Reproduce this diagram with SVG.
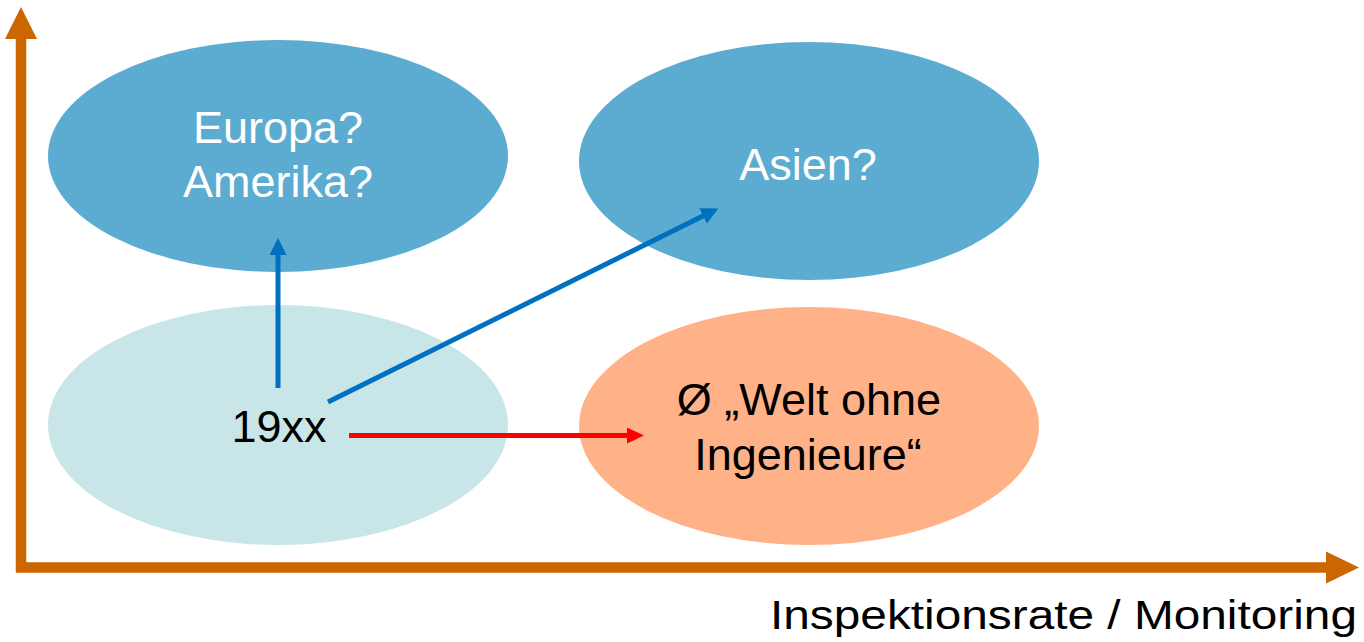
<svg xmlns="http://www.w3.org/2000/svg" width="1364" height="642" viewBox="0 0 1364 642">
<defs>
<style>
.lbl{font-family:"Liberation Sans",Arial,sans-serif;font-size:45px;text-anchor:middle}
.w{fill:#ffffff}
.k{fill:#000000}
.conn{fill:none;stroke-width:5}
</style>
<marker id="hb" viewBox="0 0 17 17" refX="1" refY="8.5" markerWidth="17" markerHeight="17" markerUnits="userSpaceOnUse" orient="auto">
<path d="M0,0 L17,8.5 L0,17 Z" fill="#0070C0"/>
</marker>
<marker id="hr" viewBox="0 0 17 16" refX="1" refY="8" markerWidth="17" markerHeight="16" markerUnits="userSpaceOnUse" orient="auto">
<path d="M0,0 L17,8 L0,16 Z" fill="#FF0000"/>
</marker>
</defs>
<rect width="1364" height="642" fill="#ffffff"/>
<g id="axes">
<path d="M21,38 L21,567.5 L1327,567.5" fill="none" stroke="#CC6600" stroke-width="10.5"/>
<path d="M21,7 L37,39 L5,39 Z" fill="#CC6600"/>
<path d="M1359,567.5 L1326,551.5 L1326,583.5 Z" fill="#CC6600"/>
<text x="770" y="629" textLength="587" lengthAdjust="spacingAndGlyphs" style="font-family:'Liberation Sans',Arial,sans-serif;font-size:40px" fill="#000000">Inspektionsrate / Monitoring</text>
</g>
<g id="europa">
<ellipse cx="278" cy="156" rx="230" ry="116" fill="#5BACD0"/>
<text class="lbl w" x="278" y="143">Europa?</text>
<text class="lbl w" x="278" y="197">Amerika?</text>
</g>
<g id="asien">
<ellipse cx="809" cy="161" rx="230" ry="119" fill="#5BACD0"/>
<text class="lbl w" x="808" y="180">Asien?</text>
</g>
<g id="n19xx">
<ellipse cx="278" cy="425" rx="230" ry="120" fill="#C8E5E8"/>
<text class="lbl k" x="279" y="442">19xx</text>
</g>
<g id="welt">
<ellipse cx="809" cy="426" rx="230" ry="119" fill="#FFB287"/>
<text class="lbl k" x="809" y="415">Ø „Welt ohne</text>
<text class="lbl k" x="808" y="470">Ingenieure“</text>
</g>
<g id="connectors">
<path class="conn" d="M278,388 L278,254" stroke="#0070C0" marker-end="url(#hb)"/>
<path class="conn" d="M328,402 L704,215.5" stroke="#0070C0" marker-end="url(#hb)"/>
<path class="conn" d="M349,435.5 L628,435.5" stroke="#FF0000" marker-end="url(#hr)"/>
</g>
</svg>
